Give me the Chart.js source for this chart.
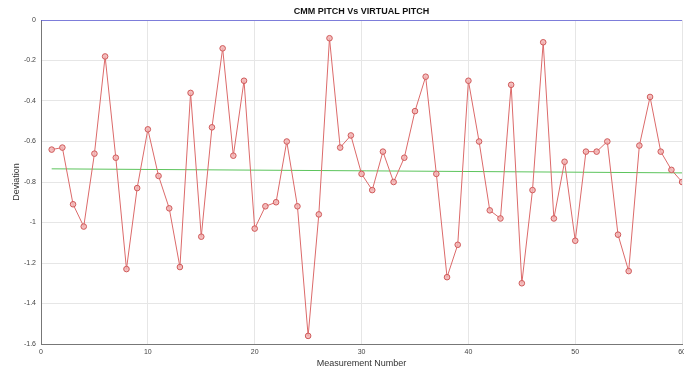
<!DOCTYPE html>
<html>
<head>
<meta charset="utf-8">
<script src="https://cdn.jsdelivr.net/npm/chart.js@4/dist/chart.umd.min.js"></script>
<style>
    html, body { margin: 0; padding: 0; background: #fff; overflow: hidden; }
    #wrap { width: 690px; height: 374px; }
</style>
</head>
<body>
<div id="wrap"><canvas id="pitch-chart" width="690" height="374"></canvas></div>
<script>
const measurement = [1, 2, 3, 4, 5, 6, 7, 8, 9, 10,
    11, 12, 13, 14, 15, 16, 17, 18, 19, 20,
    21, 22, 23, 24, 25, 26, 27, 28, 29, 30,
    31, 32, 33, 34, 35, 36, 37, 38, 39, 40,
    41, 42, 43, 44, 45, 46, 47, 48, 49, 50,
    51, 52, 53, 54, 55, 56, 57, 58, 59, 60];

const deviation = [-0.64, -0.63, -0.91, -1.02, -0.66, -0.18, -0.68, -1.23, -0.83, -0.54,
    -0.77, -0.93, -1.22, -0.36, -1.07, -0.53, -0.14, -0.67, -0.30, -1.03,
    -0.92, -0.90, -0.60, -0.92, -1.56, -0.96, -0.09, -0.63, -0.57, -0.76,
    -0.84, -0.65, -0.80, -0.68, -0.45, -0.28, -0.76, -1.27, -1.11, -0.30,
    -0.60, -0.94, -0.98, -0.32, -1.30, -0.84, -0.11, -0.98, -0.70, -1.09,
    -0.65, -0.65, -0.60, -1.06, -1.24, -0.62, -0.38, -0.65, -0.74, -0.80];

// reference (zero) line and trend line end points
const zeroLineX = [0, 60];
const zeroLineY = [0, 0];
const trendX = [1, 60];
const trendY = [-0.735, -0.755];

const xTicks = [0, 10, 20, 30, 40, 50, 60];
const yTicks = [0, -0.2, -0.4, -0.6, -0.8, -1, -1.2, -1.4, -1.6];

const chartTitle = 'CMM PITCH Vs VIRTUAL PITCH';
const xTitle = 'Measurement Number';
const yTitle = 'Deviation';

function toPoints(xs, ys) {
    return xs.map((x, i) => ({ x: x, y: ys[i] }));
}

const titlePlugin = {
    id: 'plotTitle',
    afterDraw(chart) {
        const ctx = chart.ctx;
        const area = chart.chartArea;
        ctx.save();
        ctx.font = 'bold 9px "Liberation Sans", Arial, sans-serif';
        ctx.fillStyle = '#111';
        ctx.textAlign = 'center';
        ctx.textBaseline = 'middle';
        ctx.fillText(chartTitle, (area.left + area.right) / 2, 12);
        ctx.restore();
    }
};

const ctx = document.getElementById('pitch-chart').getContext('2d');
new Chart(ctx, {
    type: 'line',
    data: {
        datasets: [
            {
                label: 'Deviation',
                data: toPoints(measurement, deviation),
                borderColor: '#dc6a6a',
                borderWidth: 1,
                pointRadius: 2.8,
                pointBorderWidth: 1,
                pointBorderColor: '#cf5a5a',
                pointBackgroundColor: 'rgba(242,180,180,0.85)',
                fill: false,
                tension: 0,
            },
            {
                label: 'Zero',
                data: toPoints(zeroLineX, zeroLineY),
                borderColor: '#5a5ad6',
                borderWidth: 1.5,
                pointRadius: 0,
                fill: false,
            },
            {
                label: 'Trend',
                data: toPoints(trendX, trendY),
                borderColor: '#5cc45c',
                borderWidth: 1,
                pointRadius: 0,
                fill: false,
            },
        ],
    },
    options: {
        responsive: false,
        animation: false,
        layout: { padding: { top: 20, right: 4, left: 0, bottom: 0 } },
        plugins: {
            legend: { display: false },
            tooltip: { enabled: false },
        },
        scales: {
            x: {
                type: 'linear',
                min: 0,
                max: 60,
                afterBuildTicks: scale => { scale.ticks = xTicks.map(v => ({ value: v })); },
                afterFit: scale => { scale.height = 30; },
                grid: { color: '#e6e6e6', drawTicks: false },
                border: { color: '#777', width: 1 },
                ticks: {
                    padding: 4,
                    color: '#444',
                    font: { size: 7, family: '"Liberation Sans", Arial, sans-serif' },
                    callback: v => String(v),
                },
                title: {
                    display: true,
                    text: xTitle,
                    color: '#333',
                    padding: { top: 1, bottom: 5 },
                    font: { size: 9, family: '"Liberation Sans", Arial, sans-serif' },
                },
            },
            y: {
                type: 'linear',
                min: -1.6,
                max: 0,
                afterBuildTicks: scale => { scale.ticks = yTicks.map(v => ({ value: v })); },
                afterFit: scale => { scale.width = 41; },
                grid: { color: '#e6e6e6', drawTicks: false },
                border: { color: '#777', width: 1 },
                ticks: {
                    padding: 5,
                    color: '#444',
                    font: { size: 7, family: '"Liberation Sans", Arial, sans-serif' },
                    callback: v => String(Number(v.toFixed(1))),
                },
                title: {
                    display: true,
                    text: yTitle,
                    color: '#333',
                    padding: { top: 11, bottom: 0 },
                    font: { size: 9, family: '"Liberation Sans", Arial, sans-serif' },
                },
            },
        },
    },
    plugins: [titlePlugin],
});
</script>
</body>
</html>
